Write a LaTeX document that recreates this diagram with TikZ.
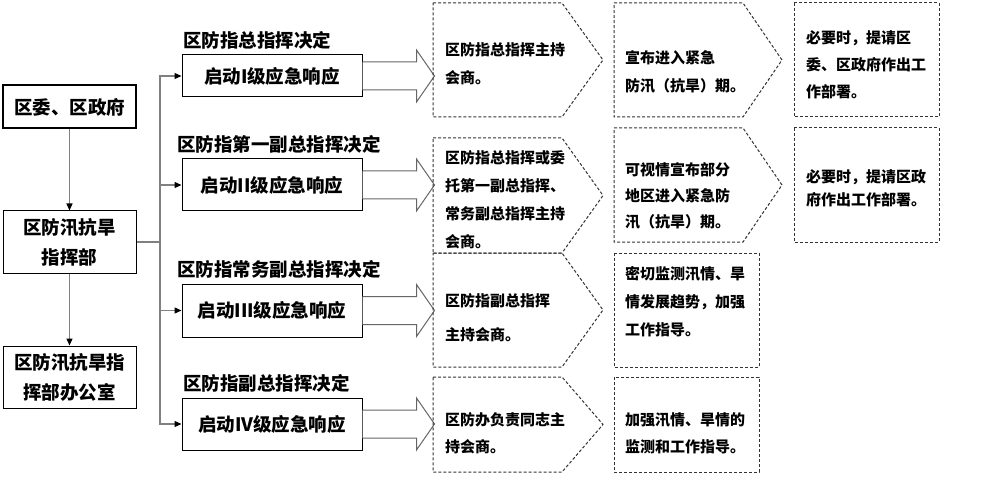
\documentclass[tikz,border=0pt]{standalone}
\usepackage{fontspec}
\setmainfont{Noto Sans CJK SC}
\usetikzlibrary{arrows.meta}
\begin{document}
\begin{tikzpicture}[x=1pt,y=-1pt,
    box/.style={draw, line width=1pt, align=center, inner sep=0pt, font=\fontsize{18.5}{30}\selectfont\bfseries},
    decision/.style={anchor=west, inner sep=0pt, font=\fontsize{18.5}{22}\selectfont\bfseries},
    link/.style={draw=gray, line width=1.2pt, -{Triangle[length=7pt,width=6pt,color=black]}},
    bigarrow/.style={draw=black!60, line width=1pt, fill=white},
    dashbox/.style={draw=black!80, line width=1pt, dash pattern=on 3pt off 2pt},
    note/.style={anchor=west, align=left, inner sep=0pt, font=\fontsize{15}{28}\selectfont\bfseries}]
\useasboundingbox (0,0) rectangle (986,492);

\node[box, line width=2pt, minimum width=133pt, minimum height=43pt] (gov) at (69.5,107) {区委、区政府};
\node[box, minimum width=133pt, minimum height=62pt] (hq) at (69.5,242) {区防汛抗旱\\指挥部};
\node[box, minimum width=133pt, minimum height=62pt] (office) at (69.5,377) {区防汛抗旱指\\挥部办公室};

\node[box, minimum width=180pt, minimum height=42pt] (lv1) at (272,76) {启动I级应急响应};
\node[box, minimum width=180pt, minimum height=52pt] (lv2) at (272,185) {启动II级应急响应};
\node[box, minimum width=180pt, minimum height=53pt] (lv3) at (272,310.5) {启动III级应急响应};
\node[box, minimum width=180pt, minimum height=52pt] (lv4) at (272,424) {启动IV级应急响应};

\node[decision] (dec1) at (183,40) {区防指总指挥决定};
\node[decision] (dec2) at (177,144) {区防指第一副总指挥决定};
\node[decision] (dec3) at (177,269) {区防指常务副总指挥决定};
\node[decision] (dec4) at (183,383) {区防指副总指挥决定};

\draw[link] (gov) -- (hq);
\draw[link] (hq) -- (office);
\coordinate (trunk) at (160,242);
\draw[gray, line width=1.2pt] (hq.east) -- (trunk);
\foreach \n in {1,...,4}
    \draw[link] (trunk) |- (lv\n.west);

\foreach \n in {1,...,4}
    \draw[bigarrow] ([yshift=14pt]lv\n.east) -- ++(54,0) -- ++(0,-12) -- ++(18,26) -- ++(-18,26) -- ++(0,-12) -- ++(-54,0);

\foreach \t/\b in {3/117, 138/253, 253/367, 377/472}
    \draw[dashbox] (433,\t) -- (562,\t) -- (603,{(\t+\b)/2}) -- (562,\b) -- (433,\b) -- cycle;
\foreach \t/\b in {3/117, 128/242}
    \draw[dashbox] (614,\t) -- (743,\t) -- (782,{(\t+\b)/2}) -- (743,\b) -- (614,\b) -- cycle;
\draw[dashbox] (614,253) rectangle (759,367);
\draw[dashbox] (614,377) rectangle (759,472);
\draw[dashbox] (794,3) rectangle (939,117);
\draw[dashbox] (794,128) rectangle (939,242);

\node[note] (m1) at (445,63.5) {区防指总指挥主持\\会商。};
\node[note] (m2) at (445,200) {区防指总指挥或委\\托第一副总指挥、\\常务副总指挥主持\\会商。};
\node[note, font=\fontsize{15}{34}\selectfont\bfseries] (m3) at (445,318) {区防指副总指挥\\主持会商。};
\node[note, font=\fontsize{15}{27}\selectfont\bfseries] (m4) at (445,433.5) {区防办负责同志主\\持会商。};

\node[note] (p1) at (625,72) {宣布进入紧急\\防汛（抗旱）期。};
\node[note, font=\fontsize{15}{26}\selectfont\bfseries] (p2) at (625,196) {可视情宣布部分\\地区进入紧急防\\汛（抗旱）期。};
\node[note] (p3) at (625,301.5) {密切监测汛情、旱\\情发展趋势，加强\\工作指导。};
\node[note, font=\fontsize{15}{27}\selectfont\bfseries] (p4) at (625,433.5) {加强汛情、旱情的\\监测和工作指导。};

\node[note, font=\fontsize{15}{27}\selectfont\bfseries] (q1) at (806,65) {必要时，提请区\\委、区政府作出工\\作部署。};
\node[note, font=\fontsize{15}{23}\selectfont\bfseries] (q2) at (806,188.5) {必要时，提请区政\\府作出工作部署。};
\end{tikzpicture}
\end{document}
